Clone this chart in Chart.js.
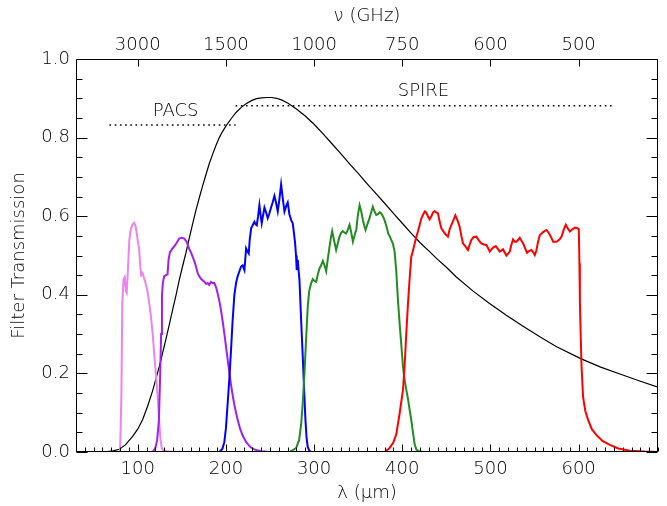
<!DOCTYPE html>
<html>
<head>
<meta charset="utf-8">
<script src="https://cdn.jsdelivr.net/npm/chart.js@4.4.1/dist/chart.umd.min.js"></script>
<style>
html,body{margin:0;padding:0;background:#ffffff;}
#wrap{width:667px;height:506px;}
</style>
</head>
<body>
<div id="wrap"><canvas id="c" width="667" height="506"></canvas></div>
<script>
// ---------------- DATA ----------------
const lamMin = 30, lamMax = 690;
const bottomTickValues = [100, 200, 300, 400, 500, 600];
const topTickValues = [100, 200, 300, 400, 500, 600];
const topTickLabels = ['3000', '1500', '1000', '750', '600', '500'];
const yTickValues = [0.0, 0.2, 0.4, 0.6, 0.8, 1.0];

// black reference curve (normalized)
const curveLam = [30,55,65,72,79,86,94,100,105.5,111,116.8,120.5,124.4,128,132,135.8,139.5,143.5,147,150.8,154.7,158.5,162.2,166,169.8,173.6,177.4,181.2,185,188.7,192.5,196.3,200.2,205.9,211.5,217.4,223.3,229,234.6,240.3,246,251.7,257.4,263,270,280,290,300,310,320,330,340,350,360,370,380,390,400,410,420,431,440,450,461,480,499,518,537,556,575,603,625,650,670,690];
const curveT   = [0,0,0.001,0.003,0.007,0.018,0.039,0.058,0.082,0.115,0.155,0.185,0.217,0.25,0.287,0.324,0.361,0.4,0.437,0.472,0.507,0.545,0.58,0.615,0.647,0.677,0.706,0.734,0.758,0.78,0.8,0.816,0.83,0.848,0.864,0.877,0.887,0.894,0.899,0.901,0.902,0.902,0.9,0.896,0.888,0.873,0.855,0.834,0.81,0.785,0.76,0.734,0.709,0.683,0.658,0.633,0.607,0.582,0.557,0.533,0.51,0.49,0.47,0.446,0.41,0.378,0.348,0.32,0.293,0.268,0.237,0.216,0.196,0.18,0.165];

// PACS 70 band (violet)
const violetLam = [30,80,81.5,82.5,84,85.3,86.5,87.5,89,90.5,92,94,96,97.5,99,100.5,101.5,103,104,105.5,107.5,109.5,111,113,115,117,118.7,120.5,122.5,124,125.5,127,129,135,160];
const violetT   = [0,0,0.15,0.38,0.44,0.445,0.41,0.405,0.47,0.54,0.565,0.578,0.583,0.575,0.555,0.53,0.52,0.47,0.45,0.455,0.44,0.425,0.41,0.38,0.344,0.3,0.25,0.2,0.145,0.09,0.04,0.012,0.003,0.001,0];

// PACS 160 band (purple)
const purpleLam = [30,117,120,122,124,125.5,126.5,127.5,128.5,130,132,133.8,135,136.5,139.5,142,144,147,150,152.8,155.4,158.5,160,162.2,164,166.1,168,169.8,172,175.5,177.5,179.3,181,183,185,186.9,189,190.6,192.5,194.5,196.5,198.2,200,202,204,206,208,210,213,216,219,223,228,234,240,250];
const purpleT   = [0,0,0.01,0.03,0.08,0.2,0.3,0.4,0.43,0.447,0.45,0.452,0.49,0.508,0.518,0.525,0.532,0.543,0.545,0.543,0.535,0.516,0.51,0.497,0.487,0.472,0.455,0.447,0.44,0.433,0.428,0.43,0.425,0.433,0.43,0.43,0.418,0.404,0.385,0.36,0.33,0.302,0.27,0.235,0.2,0.168,0.14,0.115,0.085,0.06,0.042,0.025,0.012,0.005,0.002,0];

// SPIRE 250 band (blue)
const blueLam = [180,192.5,196,198.2,200,202,204,205.8,207.5,209.6,211.5,213.3,215,217.2,219,221,222.9,224.5,225.9,227,228.6,230.5,232.3,233.5,235,236.5,238,239.5,240.6,242,243.7,245.5,247.4,249,251.2,253,255,256.8,258.8,260.5,262.6,264.5,266.4,268.2,270.1,272,274,275.8,277,278.5,279.5,280.3,281.5,282.5,283.4,285.3,287,288.5,290.2,291.5,292.8,294.7,297,430];
const blueT   = [0,0,0.008,0.025,0.06,0.124,0.19,0.26,0.33,0.4,0.43,0.447,0.458,0.472,0.475,0.463,0.518,0.51,0.505,0.54,0.569,0.578,0.586,0.58,0.577,0.6,0.628,0.6,0.582,0.6,0.622,0.61,0.595,0.605,0.622,0.635,0.652,0.635,0.612,0.64,0.681,0.645,0.612,0.625,0.635,0.605,0.59,0.582,0.56,0.531,0.5,0.463,0.489,0.46,0.438,0.336,0.25,0.17,0.081,0.035,0.013,0.003,0,0];

// SPIRE 350 band (green)
const greenLam = [272,279.6,283,285.3,287,289.1,291,292.8,294.5,296.7,298.5,300.5,302.4,304,306.1,308,309.9,311.8,313.7,315.5,317.5,319,320.5,322.5,325,327,328.8,330.5,332.6,334.5,336.4,338.5,340.2,342,344,346,347.8,349.5,351.6,353.5,355.4,357,358.4,360.5,362.9,365,366.6,368.5,370.5,372.5,374.5,376.2,378,379.9,382,384,385.6,387.5,389.4,391.3,393.2,395,397,399,400.8,402.5,404.6,406.5,408.3,410,412.1,414,416,420,425,690];
const greenT   = [0,0.01,0.03,0.07,0.12,0.2,0.29,0.37,0.41,0.43,0.44,0.435,0.433,0.45,0.467,0.475,0.486,0.475,0.46,0.49,0.522,0.545,0.562,0.54,0.514,0.532,0.548,0.557,0.562,0.558,0.556,0.567,0.578,0.56,0.535,0.552,0.565,0.6,0.628,0.612,0.59,0.575,0.565,0.58,0.595,0.612,0.624,0.612,0.603,0.605,0.61,0.607,0.6,0.59,0.575,0.556,0.55,0.54,0.53,0.51,0.46,0.39,0.327,0.27,0.217,0.185,0.158,0.135,0.108,0.085,0.05,0.02,0.006,0.001,0,0];

// SPIRE 500 band (red)
const redLam = [168,380,385.6,390,393.2,397,400.8,402.6,404.5,406.4,408.3,410.2,411.4,414,416,417.8,420,421.6,423.4,425.5,427.3,429,431,433,435,436.7,438.5,440.5,442.5,444.3,446.5,448.5,451.8,453.5,455.7,458,460.2,462.5,465.1,467,468.8,471,474.5,476.5,478.4,481,484,487,489.7,492.5,495.4,497.5,499.2,501,503,506,508,510.5,512.5,514.3,516,518.1,520,521.9,523.8,525.6,527.5,529.5,531.5,533.2,535,537,539,541.5,544,546.5,548.5,550.3,552,554,556,558,560,563.5,566,568.5,571.1,574.9,578.6,581,583,585.4,587.5,590,592,595.7,598,600.2,600.9,601.4,602.3,603.3,605,607.5,610.8,615,620.3,627,635.4,645,658,675,690];
const redT   = [0,0,0.01,0.025,0.045,0.098,0.158,0.217,0.3,0.375,0.44,0.497,0.506,0.53,0.548,0.561,0.58,0.594,0.603,0.612,0.609,0.6,0.592,0.6,0.61,0.613,0.61,0.607,0.585,0.569,0.562,0.555,0.548,0.565,0.578,0.59,0.602,0.59,0.573,0.55,0.531,0.525,0.514,0.528,0.54,0.547,0.548,0.538,0.531,0.528,0.527,0.518,0.51,0.515,0.52,0.524,0.518,0.51,0.513,0.516,0.508,0.5,0.505,0.51,0.528,0.541,0.535,0.535,0.54,0.545,0.538,0.531,0.52,0.507,0.512,0.514,0.508,0.501,0.512,0.535,0.552,0.556,0.56,0.565,0.558,0.548,0.535,0.535,0.541,0.55,0.565,0.578,0.57,0.561,0.565,0.571,0.57,0.567,0.48,0.387,0.3,0.217,0.141,0.105,0.081,0.058,0.043,0.028,0.018,0.009,0.003,0.001,0];

// instrument coverage (dotted lines) and their labels
const instrumentNames = ['PACS', 'SPIRE'];
const instrumentLamStart = [68, 211];
const instrumentLamEnd   = [211, 641];
const instrumentLevel    = [0.832, 0.881];
const instrumentLabelLam = [143, 424];
const instrumentLabelT   = [0.866, 0.917];

// ---------------- CHART ----------------
const FONT = "'DejaVu Sans', 'Liberation Sans', sans-serif";
const TEXT = '#000000';
const pts = (xs, ys) => xs.map((x, i) => ({x: x, y: ys[i]}));

const datasets = [
  {data: pts(curveLam, curveT), borderColor: '#000000', borderWidth: 1.2, order: 6},
  {data: pts(violetLam, violetT), borderColor: '#EE82EE', borderWidth: 2, order: 5},
  {data: pts(purpleLam, purpleT), borderColor: '#A020F0', borderWidth: 2, order: 4},
  {data: pts(blueLam, blueT), borderColor: '#0000FF', borderWidth: 2, order: 3},
  {data: pts(greenLam, greenT), borderColor: '#228B22', borderWidth: 2, order: 2},
  {data: pts(redLam, redT), borderColor: '#FF0000', borderWidth: 2, order: 1}
];
instrumentNames.forEach((n, i) => {
  datasets.push({
    data: [{x: instrumentLamStart[i], y: instrumentLevel[i]}, {x: instrumentLamEnd[i], y: instrumentLevel[i]}],
    borderColor: '#000000', borderWidth: 1.6, borderDash: [1.6, 3.6], borderCapStyle: 'butt', order: 0
  });
});
datasets.forEach(d => { d.pointRadius = 0; d.tension = 0; d.fill = false; });

const frameTicks = {
  id: 'frameTicks',
  afterDatasetsDraw(chart) {
    const {ctx, scales} = chart;
    const x = scales.x, y = scales.y;
    ctx.save();
    ctx.fillStyle = TEXT;
    ctx.font = "200 18px " + FONT;
    ctx.textAlign = 'center';
    ctx.textBaseline = 'middle';
    instrumentNames.forEach((n, i) => {
      ctx.fillText(n, x.getPixelForValue(instrumentLabelLam[i]), y.getPixelForValue(instrumentLabelT[i]));
    });
    ctx.restore();
  },
  afterDraw(chart) {
    const {ctx, chartArea: a, scales} = chart;
    const x = scales.x, y = scales.y, x2 = scales.x2;
    const L = Math.round(a.left) + 0.5, R = Math.round(a.right) - 0.5;
    const T = Math.round(a.top) + 0.5, B = Math.round(a.bottom) - 0.5;
    ctx.save();
    ctx.strokeStyle = '#000';
    ctx.lineWidth = 1;
    ctx.beginPath();
    ctx.rect(L, T, R - L, B - T);
    for (let v = Math.ceil(lamMin / 10) * 10; v <= lamMax; v += 10) {
      const px = Math.round(x.getPixelForValue(v)) + 0.5;
      const len = (v % 100 === 0) ? 7 : 4;
      ctx.moveTo(px, B); ctx.lineTo(px, B - len);
    }
    topTickValues.forEach(v => {
      const px = Math.round(x2.getPixelForValue(v)) + 0.5;
      ctx.moveTo(px, T); ctx.lineTo(px, T + 7);
    });
    for (let k = 0; k <= 20; k++) {
      const v = k * 0.05;
      const py = Math.round(y.getPixelForValue(v)) + 0.5;
      const len = (k % 4 === 0) ? 11 : 6;
      ctx.moveTo(L, py); ctx.lineTo(L + len, py);
      ctx.moveTo(R, py); ctx.lineTo(R - len, py);
    }
    ctx.stroke();
    ctx.restore();
  }
};

const tickFont = {family: FONT, size: 18, weight: '200'};
new Chart(document.getElementById('c'), {
  type: 'line',
  data: {datasets: datasets},
  options: {
    responsive: false,
    devicePixelRatio: 1,
    animation: false,
    events: [],
    layout: {padding: 0},
    plugins: {legend: {display: false}, tooltip: {enabled: false}},
    scales: {
      x: {
        type: 'linear', position: 'bottom', min: lamMin, max: lamMax,
        grid: {display: false, drawTicks: false}, border: {display: false},
        afterBuildTicks: s => { s.ticks = bottomTickValues.map(v => ({value: v})); },
        afterFit: s => { s.height = 54; },
        ticks: {color: TEXT, font: tickFont, padding: 7, maxRotation: 0, autoSkip: false,
                callback: v => String(v)},
        title: {display: true, text: 'λ (μm)', color: TEXT, font: tickFont, padding: {top: 0, bottom: 2}}
      },
      x2: {
        type: 'linear', position: 'top', min: lamMin, max: lamMax,
        grid: {display: false, drawTicks: false}, border: {display: false},
        afterBuildTicks: s => { s.ticks = topTickValues.map(v => ({value: v})); },
        afterFit: s => { s.height = 59; },
        ticks: {color: TEXT, font: tickFont, padding: 3, maxRotation: 0, autoSkip: false,
                callback: v => topTickLabels[topTickValues.indexOf(v)]},
        title: {display: true, text: 'ν (GHz)', color: TEXT, font: tickFont, padding: {top: 6, bottom: 0}}
      },
      y: {
        type: 'linear', position: 'left', min: 0, max: 1,
        grid: {display: false, drawTicks: false}, border: {display: false},
        afterBuildTicks: s => { s.ticks = yTickValues.map(v => ({value: v})); },
        afterFit: s => { s.width = 76; },
        ticks: {color: TEXT, font: tickFont, padding: 6, callback: v => Number(v).toFixed(1)},
        title: {display: true, text: 'Filter Transmission', color: TEXT, font: tickFont, padding: {top: 9, bottom: 0}}
      },
      y2: {
        type: 'linear', position: 'right', min: 0, max: 1,
        grid: {display: false, drawTicks: false}, border: {display: false},
        ticks: {display: false},
        afterFit: s => { s.width = 9; }
      }
    }
  },
  plugins: [frameTicks]
});
</script>
</body>
</html>
